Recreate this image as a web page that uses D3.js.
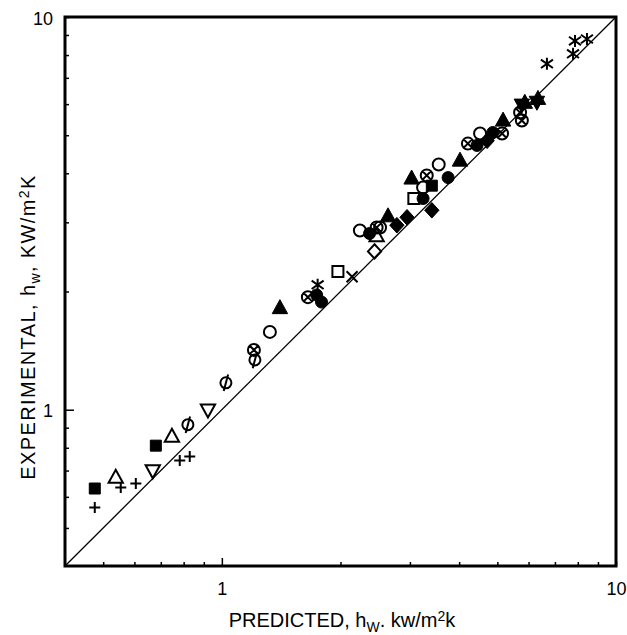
<!DOCTYPE html>
<html>
<head>
<meta charset="utf-8">
<script src="https://cdn.jsdelivr.net/npm/d3@7"></script>
<style>
  body { margin: 0; background: #fff; }
  text { font-family: "Liberation Sans", Arial, sans-serif; fill: #000; }
</style>
</head>
<body>
<div id="chart"></div>
<script>
// data (predicted hw, experimental hw), kW/m2K
const filledSquare = [[0.476, 0.630], [0.680, 0.810], [3.41, 3.72]];
const plusPts = [[0.476, 0.564], [0.554, 0.634], [0.605, 0.649], [0.782, 0.742], [0.829, 0.760]];
const openTriUp = [[0.538, 0.672], [0.747, 0.854], [2.47, 2.77]];
const openTriDown = [[0.668, 0.700], [0.922, 1.0]];
const phiPts = [[0.820, 0.916], [1.024, 1.171], [1.213, 1.339]];
const crossCircle = [[1.206, 1.420], [1.653, 1.935], [2.47, 2.91], [3.31, 3.95], [4.21, 4.76], [5.14, 5.05], [5.71, 5.71], [5.77, 5.45]];
const openCircle = [[1.324, 1.578], [2.24, 2.86], [3.24, 3.68], [3.55, 4.21], [4.52, 5.05], [2.52, 2.91]];
const filledTriUp = [[1.404, 1.815], [2.64, 3.11], [3.03, 3.88], [4.02, 4.31], [5.17, 5.45], [5.87, 6.05], [6.34, 6.19]];
const filledTriDown = [[5.77, 5.98], [6.30, 6.08]];
const filledCircle = [[1.74, 1.96], [1.79, 1.88], [2.37, 2.81], [3.24, 3.45], [3.75, 3.90], [4.44, 4.71], [4.87, 5.08]];
const filledDiamond = [[2.78, 2.95], [2.95, 3.09], [3.41, 3.22], [4.71, 4.84]];
const openSquare = [[1.97, 2.25], [3.07, 3.45]];
const openDiamond = [[2.44, 2.53]];
const timesPts = [[2.14, 2.18]];
const asteriskPts = [[1.75, 2.08], [6.68, 7.60], [7.78, 8.06], [7.87, 8.69], [8.44, 8.79]];

const domain = [0.4, 10];
const majorTicks = [1, 10];
const minorTicks = [0.5, 0.6, 0.7, 0.8, 0.9, 2, 3, 4, 5, 6, 7, 8, 9];

const width = 627, height = 635;
const margin = {left: 65, right: 11, top: 17, bottom: 69};

const svg = d3.select('#chart').append('svg')
    .attr('width', width)
    .attr('height', height);

const x = d3.scaleLog().domain(domain).range([margin.left, width - margin.right]);
const y = d3.scaleLog().domain(domain).range([height - margin.bottom, margin.top]);

// shape paths, centred on 0,0
function shapePath(kind, r) {
    const p = d3.path();
    if (kind === 'square') {
        p.rect(-r, -r, 2 * r, 2 * r);
    } else if (kind === 'triUp') {
        p.moveTo(0, -r * 1.2); p.lineTo(r * 1.1, r * 0.8); p.lineTo(-r * 1.1, r * 0.8); p.closePath();
    } else if (kind === 'triDown') {
        p.moveTo(0, r * 1.2); p.lineTo(r * 1.1, -r * 0.8); p.lineTo(-r * 1.1, -r * 0.8); p.closePath();
    } else if (kind === 'diamond') {
        p.moveTo(0, -r * 1.2); p.lineTo(r * 1.1, 0); p.lineTo(0, r * 1.2); p.lineTo(-r * 1.1, 0); p.closePath();
    } else if (kind === 'circle') {
        p.arc(0, 0, r, 0, 2 * Math.PI);
    } else if (kind === 'plus') {
        p.moveTo(-r, 0); p.lineTo(r, 0); p.moveTo(0, -r); p.lineTo(0, r);
    } else if (kind === 'times') {
        p.moveTo(-r, -r); p.lineTo(r, r); p.moveTo(r, -r); p.lineTo(-r, r);
    } else if (kind === 'asterisk') {
        p.moveTo(-r, -r * 0.7); p.lineTo(r, r * 0.7); p.moveTo(r, -r * 0.7); p.lineTo(-r, r * 0.7);
        p.moveTo(0, -r); p.lineTo(0, r);
    } else if (kind === 'phi') {
        p.arc(0, 0, r, 0, 2 * Math.PI);
        p.moveTo(r * 0.4, -r * 1.5); p.lineTo(-r * 0.4, r * 1.5);
    } else if (kind === 'crossCircle') {
        p.arc(0, 0, r, 0, 2 * Math.PI);
        p.moveTo(-r * 0.7, -r * 0.7); p.lineTo(r * 0.7, r * 0.7);
        p.moveTo(r * 0.7, -r * 0.7); p.lineTo(-r * 0.7, r * 0.7);
    }
    return p.toString();
}

const series = [
    {data: openCircle, kind: 'circle', filled: false, r: 6},
    {data: openSquare, kind: 'square', filled: false, r: 5.5},
    {data: openDiamond, kind: 'diamond', filled: false, r: 6},
    {data: openTriUp, kind: 'triUp', filled: false, r: 6.5},
    {data: openTriDown, kind: 'triDown', filled: false, r: 6.5},
    {data: phiPts, kind: 'phi', filled: false, r: 5.5},
    {data: crossCircle, kind: 'crossCircle', filled: false, r: 6},
    {data: filledCircle, kind: 'circle', filled: true, r: 6},
    {data: filledSquare, kind: 'square', filled: true, r: 5.5},
    {data: filledDiamond, kind: 'diamond', filled: true, r: 6.5},
    {data: filledTriUp, kind: 'triUp', filled: true, r: 7},
    {data: filledTriDown, kind: 'triDown', filled: true, r: 7},
    {data: plusPts, kind: 'plus', filled: false, r: 5.5},
    {data: timesPts, kind: 'times', filled: false, r: 5.5},
    {data: asteriskPts, kind: 'asterisk', filled: false, r: 6}
];

// diagonal y = x
svg.append('line')
    .attr('x1', x(domain[0])).attr('y1', y(domain[0]))
    .attr('x2', x(domain[1])).attr('y2', y(domain[1]))
    .attr('stroke', '#000')
    .attr('stroke-width', 1.3);

// points
series.forEach(function (s) {
    svg.append('g')
        .selectAll('path')
        .data(s.data)
        .enter()
        .append('path')
        .attr('transform', d => 'translate(' + x(d[0]) + ',' + y(d[1]) + ')')
        .attr('d', shapePath(s.kind, s.r))
        .attr('fill', s.filled ? '#000' : '#fff')
        .attr('fill-opacity', s.filled ? 1 : 0)
        .attr('stroke', '#000')
        .attr('stroke-width', s.filled ? 1 : 2);
});

// axes, ticks pointing inward
const allTicks = minorTicks.concat(majorTicks);
const fmt = d => (majorTicks.indexOf(d) >= 0 ? String(d) : '');

const xAxis = svg.append('g')
    .attr('transform', 'translate(0,' + (height - margin.bottom) + ')')
    .call(d3.axisBottom(x).tickValues(allTicks).tickFormat(fmt).tickSize(-4).tickPadding(16));

const yAxis = svg.append('g')
    .attr('transform', 'translate(' + margin.left + ',0)')
    .call(d3.axisLeft(y).tickValues(allTicks).tickFormat(fmt).tickSize(-4).tickPadding(12));

[xAxis, yAxis].forEach(function (ax) {
    ax.select('.domain').remove();
    ax.selectAll('.tick line').attr('stroke-width', 1.5);
    ax.selectAll('.tick text')
        .style('font-family', '"Liberation Sans", Arial, sans-serif')
        .style('font-size', '18px');
});
xAxis.selectAll('.tick line').filter(d => d === 1).attr('y2', -8);
yAxis.selectAll('.tick line').filter(d => d === 1).attr('x2', 9);
yAxis.selectAll('.tick text').attr('dy', '0.4em');

// frame
svg.append('rect')
    .attr('x', margin.left)
    .attr('y', margin.top)
    .attr('width', width - margin.left - margin.right)
    .attr('height', height - margin.top - margin.bottom)
    .attr('fill', 'none')
    .attr('stroke', '#000')
    .attr('stroke-width', 3);

// axis titles
const xTitle = svg.append('text')
    .attr('x', 342)
    .attr('y', 627)
    .attr('text-anchor', 'middle')
    .style('font-size', '20px');
xTitle.append('tspan').text('PREDICTED, h');
xTitle.append('tspan').attr('dy', 5).style('font-size', '14px').text('W');
xTitle.append('tspan').attr('dy', -5).text('. kw/m');
xTitle.append('tspan').attr('dy', -6).style('font-size', '14px').text('2');
xTitle.append('tspan').attr('dy', 6).text('k');

const yTitle = svg.append('text')
    .attr('transform', 'translate(35,327) rotate(-90)')
    .attr('text-anchor', 'middle')
    .style('font-size', '20px')
    .style('letter-spacing', '1.4px');
yTitle.append('tspan').text('EXPERIMENTAL, h');
yTitle.append('tspan').attr('dy', 5).style('font-size', '14px').text('w');
yTitle.append('tspan').attr('dy', -5).text(', KW/m');
yTitle.append('tspan').attr('dy', -6).style('font-size', '14px').text('2');
yTitle.append('tspan').attr('dy', 6).text('K');
</script>
</body>
</html>
